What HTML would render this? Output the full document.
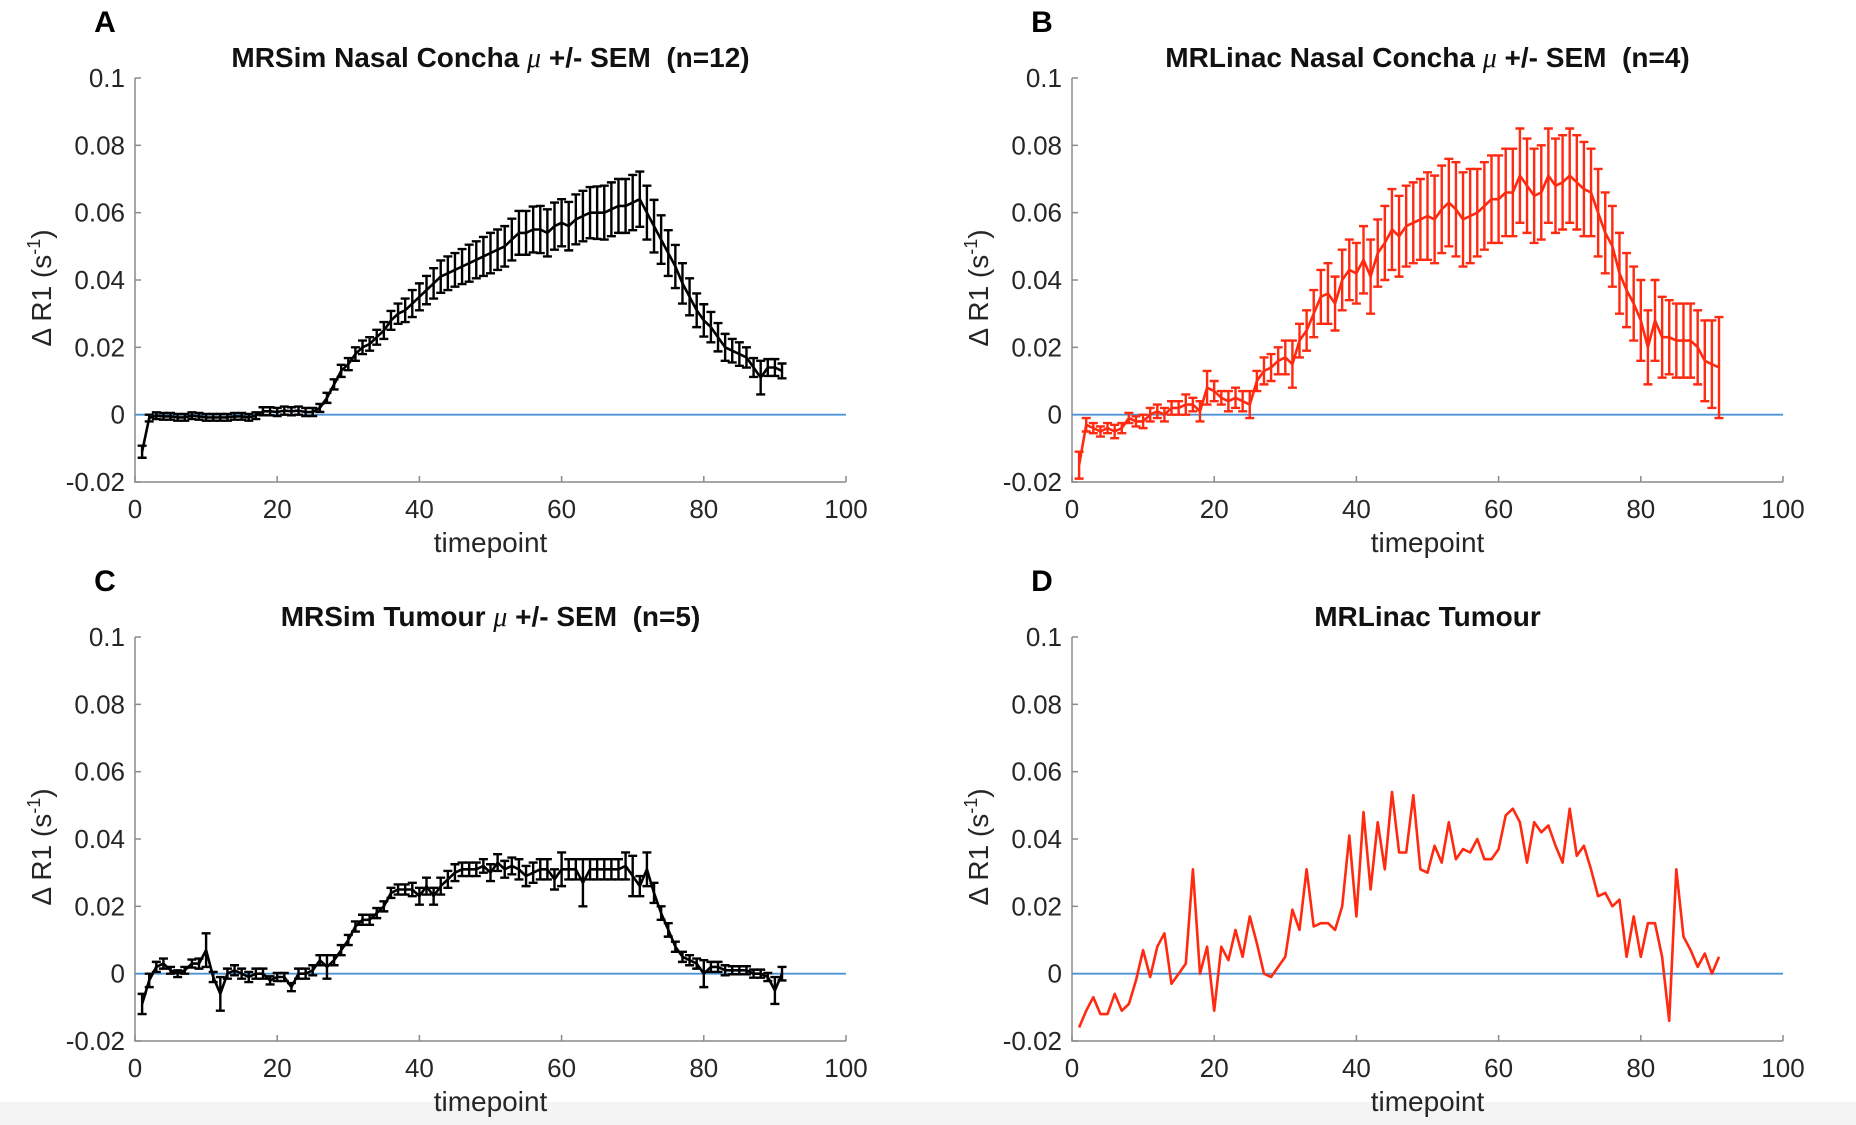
<!DOCTYPE html>
<html><head><meta charset="utf-8"><style>
html,body{margin:0;padding:0;background:#fff;}
svg{display:block;font-family:"Liberation Sans",Arial,sans-serif;}
</style></head><body>
<svg id="fig" width="1856" height="1125" viewBox="0 0 1856 1125" xmlns="http://www.w3.org/2000/svg">
<rect x="0" y="0" width="1856" height="1125" fill="#fff"/>
<rect x="0" y="1102" width="1856" height="23" fill="#f4f4f4"/>
</svg>
<script>
const xTicks = [0,20,40,60,80,100];
const yTicks = [-0.02,0,0.02,0.04,0.06,0.08,0.1];
const yTickLabels = ["-0.02","0","0.02","0.04","0.06","0.08","0.1"];
const timepoints = Array.from({length:91},(_,i)=>i+1);

const meanA = [-0.011,-0.001,-0.0003,-0.0005,-0.0005,-0.0008,-0.0008,-0.0003,-0.0005,-0.0008,-0.0008,-0.0008,-0.0008,-0.0005,-0.0005,-0.0008,-0.0003,0.001,0.001,0.0008,0.0012,0.001,0.0012,0.0008,0.0008,0.002,0.005,0.009,0.013,0.015,0.018,0.020,0.021,0.023,0.025,0.028,0.030,0.031,0.033,0.035,0.037,0.039,0.041,0.042,0.043,0.044,0.045,0.046,0.047,0.048,0.049,0.050,0.052,0.054,0.054,0.055,0.055,0.054,0.056,0.057,0.056,0.058,0.059,0.060,0.060,0.060,0.061,0.062,0.062,0.063,0.064,0.060,0.056,0.052,0.048,0.044,0.039,0.035,0.031,0.028,0.026,0.023,0.020,0.019,0.018,0.017,0.014,0.011,0.014,0.014,0.013];
const errA = [0.0018,0.001,0.001,0.001,0.001,0.001,0.001,0.001,0.001,0.001,0.001,0.001,0.001,0.001,0.001,0.001,0.001,0.0012,0.0012,0.0012,0.0012,0.0012,0.0012,0.0012,0.0012,0.0012,0.0015,0.0015,0.0018,0.0018,0.002,0.002,0.002,0.0022,0.0025,0.0028,0.003,0.0035,0.004,0.004,0.0042,0.0045,0.0048,0.005,0.005,0.0052,0.0055,0.0055,0.0058,0.006,0.006,0.006,0.0062,0.0065,0.0065,0.0068,0.007,0.007,0.007,0.007,0.0072,0.0074,0.0075,0.0076,0.0078,0.008,0.008,0.008,0.008,0.0082,0.0082,0.008,0.0078,0.0072,0.0068,0.0064,0.006,0.0055,0.005,0.0048,0.0045,0.0042,0.004,0.0035,0.0035,0.003,0.0028,0.005,0.0025,0.0025,0.0022];

const meanB = [-0.015,-0.003,-0.004,-0.005,-0.004,-0.005,-0.004,-0.001,-0.002,-0.002,0.000,0.001,0.000,0.002,0.002,0.003,0.003,0.001,0.008,0.007,0.005,0.004,0.005,0.004,0.003,0.010,0.013,0.014,0.016,0.017,0.015,0.022,0.025,0.030,0.035,0.036,0.033,0.040,0.043,0.042,0.046,0.041,0.048,0.051,0.055,0.053,0.056,0.057,0.058,0.059,0.058,0.061,0.063,0.061,0.058,0.059,0.060,0.062,0.064,0.064,0.066,0.066,0.071,0.068,0.065,0.066,0.071,0.068,0.069,0.071,0.069,0.067,0.066,0.060,0.054,0.050,0.042,0.037,0.033,0.028,0.020,0.028,0.023,0.023,0.022,0.022,0.022,0.020,0.016,0.015,0.014];
const errB = [0.004,0.002,0.0015,0.0015,0.0015,0.002,0.0015,0.0015,0.0015,0.002,0.002,0.002,0.002,0.002,0.002,0.003,0.002,0.003,0.005,0.003,0.002,0.003,0.003,0.003,0.004,0.003,0.004,0.004,0.004,0.005,0.007,0.005,0.006,0.007,0.008,0.009,0.008,0.009,0.009,0.009,0.010,0.011,0.010,0.011,0.012,0.012,0.012,0.012,0.012,0.013,0.013,0.013,0.013,0.014,0.014,0.014,0.013,0.013,0.013,0.013,0.013,0.013,0.014,0.014,0.014,0.014,0.014,0.014,0.014,0.014,0.014,0.014,0.013,0.013,0.012,0.012,0.012,0.011,0.011,0.012,0.011,0.012,0.012,0.011,0.011,0.011,0.011,0.011,0.012,0.013,0.015];

const meanC = [-0.009,-0.002,0.002,0.003,0.001,0.000,0.001,0.003,0.003,0.007,-0.001,-0.006,0.000,0.001,0.000,-0.001,0.000,0.000,-0.002,-0.001,-0.001,-0.004,0.000,0.000,0.001,0.004,0.002,0.004,0.007,0.010,0.014,0.016,0.016,0.018,0.020,0.024,0.025,0.025,0.025,0.023,0.026,0.023,0.026,0.028,0.030,0.031,0.031,0.031,0.032,0.030,0.033,0.031,0.032,0.031,0.029,0.030,0.031,0.031,0.028,0.031,0.031,0.031,0.027,0.031,0.031,0.031,0.031,0.031,0.032,0.029,0.026,0.031,0.024,0.018,0.013,0.008,0.005,0.004,0.003,0.000,0.002,0.002,0.001,0.001,0.001,0.001,0.000,0.000,-0.001,-0.005,0.000];
const errC = [0.003,0.002,0.0015,0.0015,0.001,0.001,0.001,0.0012,0.0015,0.005,0.0015,0.005,0.0015,0.0015,0.0015,0.0015,0.0015,0.0015,0.0012,0.0012,0.0012,0.0012,0.0015,0.0015,0.0015,0.0015,0.0035,0.0015,0.0015,0.0015,0.0015,0.0015,0.0015,0.0015,0.0015,0.0015,0.0015,0.0015,0.002,0.0025,0.0025,0.0025,0.0025,0.0025,0.0025,0.002,0.002,0.002,0.002,0.0025,0.0025,0.0025,0.0025,0.003,0.003,0.003,0.003,0.003,0.003,0.005,0.003,0.003,0.007,0.003,0.003,0.003,0.003,0.003,0.004,0.006,0.003,0.005,0.003,0.002,0.002,0.0015,0.0015,0.0015,0.0015,0.004,0.0015,0.0015,0.0015,0.0012,0.0012,0.0012,0.0012,0.0012,0.0012,0.004,0.002];

const meanD = [-0.016,-0.011,-0.007,-0.012,-0.012,-0.006,-0.011,-0.009,-0.002,0.007,-0.001,0.008,0.012,-0.003,0.000,0.003,0.031,0.000,0.008,-0.011,0.008,0.004,0.013,0.005,0.017,0.009,0.000,-0.001,0.002,0.005,0.019,0.013,0.031,0.014,0.015,0.015,0.013,0.020,0.041,0.017,0.048,0.025,0.045,0.031,0.054,0.036,0.036,0.053,0.031,0.030,0.038,0.033,0.045,0.034,0.037,0.036,0.040,0.034,0.034,0.037,0.047,0.049,0.045,0.033,0.045,0.042,0.044,0.038,0.033,0.049,0.035,0.038,0.031,0.023,0.024,0.020,0.022,0.005,0.017,0.005,0.015,0.015,0.005,-0.014,0.031,0.011,0.007,0.002,0.006,0.000,0.005];

const svg = document.getElementById('fig');
const NS = 'http://www.w3.org/2000/svg';
const PW = 711, PH = 404;
function mk(tag, attrs, parent){
  const e = document.createElementNS(NS, tag);
  for (const k in attrs) e.setAttribute(k, attrs[k]);
  (parent||svg).appendChild(e);
  return e;
}
function panel(cfg){
  const g = mk('g', {});
  
  
  const X = v => cfg.x0 + (v/100)*PW;
  const Y = v => cfg.y0 + (0.1 - v)/0.12*PH;
  const lt = mk('text', {x: cfg.x0-30, y: cfg.y0-46, 'font-size': 30, 'font-weight': 'bold', fill: '#000', 'text-anchor':'middle'}, g);
  lt.textContent = cfg.letter;
  
  
  const tt = mk('text', {x: cfg.x0+PW/2, y: cfg.y0-11, 'font-size': 28, 'font-weight': 'bold', fill: '#111', 'text-anchor':'middle', 'xml:space':'preserve', style:'white-space:pre'}, g);
  tt.innerHTML = cfg.title;
  
  
  const ax = mk('path', {d:`M${cfg.x0},${cfg.y0} V${cfg.y0+PH} H${cfg.x0+PW}`, stroke:'#8a8a8a', 'stroke-width':1.5, fill:'none'}, g);
  
  
  yTicks.forEach((t,i)=>{
    const y = Y(t);
    mk('line', {x1:cfg.x0, x2:cfg.x0+6, y1:y, y2:y, stroke:'#8a8a8a','stroke-width':1.5}, g);
    const tl = mk('text', {x: cfg.x0-10, y: y+9, 'font-size': 26, fill:'#262626', 'text-anchor':'end'}, g);
    tl.textContent = yTickLabels[i];
    
    
  });
  xTicks.forEach(t=>{
    const x = X(t);
    mk('line', {x1:x, x2:x, y1:cfg.y0+PH, y2:cfg.y0+PH-6, stroke:'#8a8a8a','stroke-width':1.5}, g);
    const tl = mk('text', {x: x, y: cfg.y0+PH+36, 'font-size': 26, fill:'#262626', 'text-anchor':'middle'}, g);
    tl.textContent = String(t);
    
    
  });
  const xl = mk('text', {x: cfg.x0+PW/2, y: cfg.y0+PH+70, 'font-size': 28, fill:'#262626', 'text-anchor':'middle'}, g);
  xl.textContent = 'timepoint';
  
  
  const cy = cfg.y0+PH/2+8, cx = cfg.x0-84;
  const yl = mk('text', {x: cx, y: cy, 'font-size': 28, fill:'#262626', 'text-anchor':'middle', transform:`rotate(-90 ${cx} ${cy})`}, g);
  yl.innerHTML = '&#916; R1  (s<tspan dy="-11" font-size="18">-1</tspan><tspan dy="11">)</tspan>';
  
  
  const zl = mk('line', {x1:cfg.x0, x2:cfg.x0+PW, y1:Y(0), y2:Y(0), stroke:'#4d94d6','stroke-width':1.8}, g);
  
  
  if (cfg.err){
    const eg = mk('g', {stroke: cfg.color, 'stroke-width': 2.4, fill:'none'}, g);
    
    
    cfg.mean.forEach((m,i)=>{
      const x = X(timepoints[i]), y1 = Y(m+cfg.err[i]), y2 = Y(m-cfg.err[i]);
      const p = mk('path', {d:`M${x},${y1} V${y2} M${x-4.5},${y1} H${x+4.5} M${x-4.5},${y2} H${x+4.5}`}, eg);
      
      
    });
  }
  const d = cfg.mean.map((m,i)=>(i?'L':'M')+X(timepoints[i]).toFixed(1)+','+Y(m).toFixed(1)).join(' ');
  const ln = mk('path', {d, stroke: cfg.color, 'stroke-width': 2.6, fill:'none', 'stroke-linejoin':'round'}, g);
  
  
}
const mu = '<tspan font-family="Liberation Serif, serif" font-style="italic" font-weight="normal">&#956;</tspan>';
panel({name:'panel-a-mrsim-nasal-concha', letter:'A', x0:135, y0:78, color:'#000', mean:meanA, err:errA, title:'MRSim Nasal Concha '+mu+' +/- SEM  (n=12)'});
panel({name:'panel-b-mrlinac-nasal-concha', letter:'B', x0:1072, y0:78, color:'#ff2a10', mean:meanB, err:errB, title:'MRLinac Nasal Concha '+mu+' +/- SEM  (n=4)'});
panel({name:'panel-c-mrsim-tumour', letter:'C', x0:135, y0:637, color:'#000', mean:meanC, err:errC, title:'MRSim Tumour '+mu+' +/- SEM  (n=5)'});
panel({name:'panel-d-mrlinac-tumour', letter:'D', x0:1072, y0:637, color:'#ff2a10', mean:meanD, err:null, title:'MRLinac Tumour'});
</script>
</body></html>
